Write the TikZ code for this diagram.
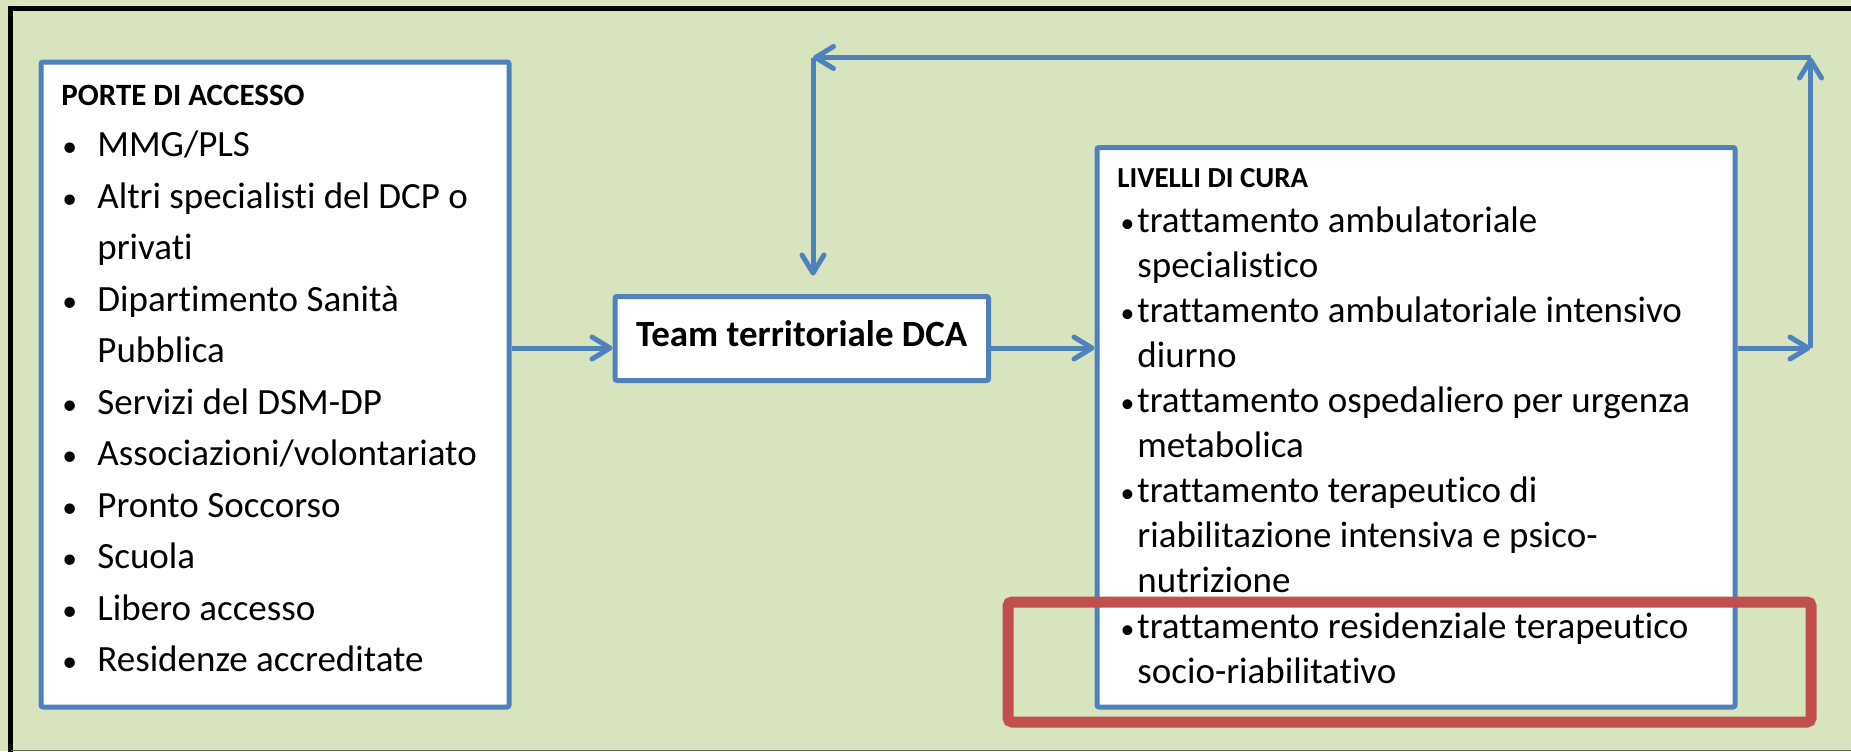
\documentclass[tikz,border=0pt]{standalone}
\usepackage{fontspec}
\setmainfont{Carlito}[Ligatures=NoCommon]
\usetikzlibrary{arrows.meta}
\definecolor{bggreen}{HTML}{D7E4BD}
\definecolor{boxblue}{HTML}{4F81BD}
\definecolor{hlred}{HTML}{C0504D}
\newcommand\pbul{\makebox[18pt][l]{\hspace{0.5pt}\scalebox{0.8}{•}}}
\newcommand\pind{\hspace*{18pt}}
\newcommand\rbul{\makebox[10pt][r]{\scalebox{0.75}{•}\hspace{1.5pt}}}
\newcommand\rind{\hspace*{10pt}}
\begin{document}
\begin{tikzpicture}[x=0.5pt,y=-0.5pt,
  bluebox/.style={draw=boxblue, line width=2.5pt, fill=white, rounded corners=1pt, inner sep=0pt},
  arr/.style={draw=boxblue, line width=2.5pt, -{Straight Barb[length=9pt,width=11pt,round]}},
  txt/.style={inner sep=0pt, anchor=base west, align=left}]
\fill[bggreen] (0,0) rectangle (1851,751);
\useasboundingbox (0,0) rectangle (1851,751);
\draw[black, line width=2.4pt] (10.5,760) -- (10.5,8.5) -- (1860,8.5);
\draw[black!55!bggreen, line width=0.8pt] (10.5,750.3) -- (1851,750.3);

\node[bluebox, minimum width=234pt, minimum height=322.5pt] (porte) at (275,384.5) {};
\node[bluebox, minimum width=186.75pt, minimum height=42pt,
      font=\fontsize{18.5pt}{22pt}\selectfont\bfseries,
      text height=13pt, text depth=4.8pt] (team) at (801.75,338.5) {Team territoriale DCA};
\node[bluebox, minimum width=319pt, minimum height=279.75pt] (livelli) at (1416,427.25) {};

\node[txt] (portetxt) at (61,105) {\parbox[t]{300pt}{\raggedright\fontsize{18.5pt}{25.75pt}\selectfont
{\fontsize{15.5pt}{25.75pt}\selectfont\bfseries PORTE DI ACCESSO}\\
\pbul MMG/PLS\\
\pbul Altri specialisti del DCP o\\
\pind privati\\
\pbul Dipartimento Sanità\\
\pind Pubblica\\
\pbul Servizi del DSM-DP\\
\pbul Associazioni/volontariato\\
\pbul Pronto Soccorso\\
\pbul Scuola\\
\pbul Libero accesso\\
\pbul Residenze accreditate}};

\node[txt] (livellitxt) at (1117,187) {\parbox[t]{330pt}{\raggedright\fontsize{18.5pt}{22.55pt}\selectfont
{\fontsize{14.5pt}{22.55pt}\selectfont\bfseries LIVELLI DI CURA}\\
\rbul trattamento ambulatoriale\\
\rind specialistico\\
\rbul trattamento ambulatoriale intensivo\\
\rind diurno\\
\rbul trattamento ospedaliero per urgenza\\
\rind metabolica\\
\rbul trattamento terapeutico di\\
\rind riabilitazione intensiva e psico-\\
\rind nutrizione\\
\rbul trattamento residenziale terapeutico\\
\rind socio-riabilitativo}};

\coordinate (ya) at (0,348);
\coordinate (cR) at (1810.5,348);
\coordinate (cTR) at (1810.5,57.5);
\coordinate (cTL) at (813,57.5);
\draw[arr] (porte.east |- ya) -- (team.west |- ya);
\draw[arr] (team.east |- ya) -- (livelli.west |- ya);
\draw[arr] (livelli.east |- ya) -- (cR);
\draw[arr] (cR) -- (cTR);
\draw[arr] (cTR) -- (cTL);
\draw[arr, shorten >=9.25pt] (cTL) -- (cTL |- team.north);

\node[draw=hlred, line width=5.5pt, rounded corners=2pt, minimum width=401.5pt,
      minimum height=60pt, inner sep=0pt] (redbox) at (1409.5,662) {};
\end{tikzpicture}
\end{document}
